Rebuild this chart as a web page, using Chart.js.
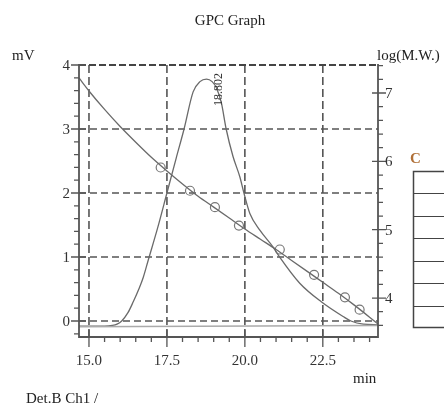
<!DOCTYPE html>
<html><head><meta charset="utf-8">
<script src="https://cdn.jsdelivr.net/npm/chart.js@4/dist/chart.umd.min.js"></script>
<style>html,body{margin:0;padding:0;background:#fff;}#wrap{width:444px;height:407px;position:relative;}</style>
</head><body><div id="wrap"><canvas id="c" width="444" height="407"></canvas></div>
<script>
// Detector signal (mV) vs retention time (min)
const chromMin = [14.68,15.5,15.75,15.9,16.05,16.25,16.42,16.6,16.74,16.9,17.2,17.5,17.8,18.05,18.34,18.56,18.77,18.95,19.09,19.25,19.4,19.62,19.84,19.97,20.16,20.48,20.9,21.1,21.76,22.45,23.15,23.4,23.8,24.27];
const chromMv  = [-0.08,-0.08,-0.07,-0.05,0.0,0.13,0.3,0.5,0.68,0.95,1.45,2.0,2.55,3.0,3.58,3.74,3.78,3.74,3.64,3.40,3.0,2.57,2.25,2.0,1.68,1.42,1.16,1.01,0.59,0.3,0.07,0.0,-0.05,-0.06];
// Baseline
const baseMin = [14.68,24.27];
const baseMv  = [-0.09,-0.07];
// Calibration curve log(M.W.) vs min
const calMin = [14.68,15.0,15.5,16.0,16.5,17.0,17.5,18.0,18.5,19.0,19.5,20.0,20.5,21.0,21.5,22.0,22.5,23.0,23.5,24.0,24.27];
const calLog = [7.22,7.03,6.76,6.51,6.28,6.06,5.86,5.67,5.49,5.33,5.17,5.01,4.86,4.71,4.55,4.39,4.23,4.07,3.90,3.72,3.62];
// Calibration standards
const stdMin = [17.30,18.24,19.04,19.81,21.12,22.22,23.21,23.68];
const stdLog = [5.91,5.57,5.33,5.06,4.71,4.34,4.01,3.83];
// Peak label
const peakTime = 18.802;
const peakLabel = '18.802';
// Axis ticks
const xMajor = [15.0,17.5,20.0,22.5];
const xTickLabels = ['15.0','17.5','20.0','22.5'];
const xMinorStep = 0.5;
const yMajor = [0,1,2,3,4];
const yTickLabels = ['0','1','2','3','4'];
const yMinorStep = 0.2;
const y2Major = [4,5,6,7];
const y2TickLabels = ['4','5','6','7'];
const y2MinorStep = 0.2;

const pts = (xs, ys) => xs.map((v,i)=>({x:v,y:ys[i]}));
const SERIF = '"Liberation Serif", "DejaVu Serif", serif';
const AX = '#555';

const gpcPlugin = {
  id:'gpc',
  beforeDatasetsDraw(chart){
    const {ctx, chartArea:a, scales:{x,y}} = chart;
    ctx.save();
    ctx.strokeStyle = AX; ctx.lineWidth = 1.6;
    ctx.setLineDash([8,4]);
    xMajor.forEach(v=>{
      const px = x.getPixelForValue(v);
      ctx.beginPath(); ctx.moveTo(px,a.top); ctx.lineTo(px,a.bottom); ctx.stroke();
    });
    ctx.setLineDash([7,4]);
    yMajor.forEach(v=>{
      if (v === 4) return;
      const py = y.getPixelForValue(v);
      ctx.beginPath(); ctx.moveTo(a.left,py); ctx.lineTo(a.right,py); ctx.stroke();
    });
    ctx.restore();
  },
  afterDraw(chart){
    const {ctx, chartArea:a, scales:{x,y,y2}} = chart;
    ctx.save();
    // top dashed border
    ctx.strokeStyle = '#444'; ctx.lineWidth = 2.2; ctx.setLineDash([7,3]);
    ctx.beginPath(); ctx.moveTo(a.left,a.top); ctx.lineTo(a.right,a.top); ctx.stroke();
    ctx.setLineDash([]);
    // axis lines
    ctx.strokeStyle = AX; ctx.lineWidth = 1.8;
    ctx.beginPath();
    ctx.moveTo(a.left,a.top-1); ctx.lineTo(a.left,a.bottom);
    ctx.lineTo(a.right,a.bottom); ctx.lineTo(a.right,a.top-1);
    ctx.stroke();
    // ticks
    ctx.lineWidth = 1.3;
    ctx.beginPath();
    for (let v = -0.2; v <= 4.0001; v += yMinorStep) {
      const py = y.getPixelForValue(v);
      ctx.moveTo(a.left-5,py); ctx.lineTo(a.left,py);
    }
    yMajor.forEach(v=>{ const py=y.getPixelForValue(v); ctx.moveTo(a.left-8,py); ctx.lineTo(a.left+7,py); });
    for (let v = 3.6; v <= 7.40001; v += y2MinorStep) {
      const py = y2.getPixelForValue(v);
      ctx.moveTo(a.right,py); ctx.lineTo(a.right+5,py);
    }
    y2Major.forEach(v=>{ const py=y2.getPixelForValue(v); ctx.moveTo(a.right-6,py); ctx.lineTo(a.right+8,py); });
    for (let v = 15.0; v <= 24.2; v += xMinorStep) {
      const px = x.getPixelForValue(v);
      ctx.moveTo(px,a.bottom); ctx.lineTo(px,a.bottom+5);
    }
    xMajor.forEach(v=>{ const px=x.getPixelForValue(v); ctx.moveTo(px,a.bottom-7); ctx.lineTo(px,a.bottom+10); });
    ctx.stroke();
    // tick labels
    ctx.fillStyle = '#333';
    ctx.font = '15px ' + SERIF;
    ctx.textAlign = 'right'; ctx.textBaseline = 'middle';
    yMajor.forEach((v,i)=>ctx.fillText(yTickLabels[i], a.left-9, y.getPixelForValue(v)+1));
    ctx.textAlign = 'left';
    y2Major.forEach((v,i)=>ctx.fillText(y2TickLabels[i], a.right+7, y2.getPixelForValue(v)+1));
    ctx.textAlign = 'center'; ctx.textBaseline = 'alphabetic';
    xMajor.forEach((v,i)=>ctx.fillText(xTickLabels[i], x.getPixelForValue(v), a.bottom+28));
    // titles
    ctx.fillStyle = '#222';
    ctx.fillText('GPC Graph', 230, 25);
    ctx.textAlign = 'left';
    ctx.fillText('mV', 12, 60);
    ctx.fillText('log(M.W.)', 377, 60);
    ctx.fillText('min', 353, 383);
    ctx.fillText('Det.B Ch1 /', 26, 403);
    // peak label
    ctx.save();
    ctx.fillStyle = '#333';
    ctx.font = '12px ' + SERIF;
    ctx.translate(x.getPixelForValue(peakTime)+14, a.top+41);
    ctx.rotate(-Math.PI/2);
    ctx.textAlign = 'left'; ctx.textBaseline = 'alphabetic';
    ctx.fillText(peakLabel, 0, 0);
    ctx.restore();
    // cut-off side table fragment
    ctx.fillStyle = '#b07038';
    ctx.font = 'bold 15px ' + SERIF;
    ctx.fillText('C', 410, 163);
    ctx.strokeStyle = '#444'; ctx.lineWidth = 1.5;
    ctx.strokeRect(413.5, 171.5, 40, 156);
    ctx.lineWidth = 1;
    ctx.beginPath();
    [193.5,216.5,238.5,261.5,283.5,306.5].forEach(r=>{ctx.moveTo(413,r);ctx.lineTo(444,r);});
    ctx.stroke();
    ctx.restore();
  }
};

new Chart(document.getElementById('c'), {
  type:'scatter',
  data:{ datasets:[
    {data:pts(baseMin,baseMv), xAxisID:'x', yAxisID:'y', showLine:true, borderColor:'#aaa', borderWidth:1.6, pointRadius:0},
    {data:pts(chromMin,chromMv), xAxisID:'x', yAxisID:'y', showLine:true, borderColor:'#6a6a6a', borderWidth:1.3, pointRadius:0, cubicInterpolationMode:'monotone'},
    {data:pts(calMin,calLog), xAxisID:'x', yAxisID:'y2', showLine:true, borderColor:'#6a6a6a', borderWidth:1.3, pointRadius:0, cubicInterpolationMode:'monotone'},
    {data:pts(stdMin,stdLog), xAxisID:'x', yAxisID:'y2', showLine:false, pointRadius:4.5, pointStyle:'circle', borderColor:'#777', borderWidth:1.2, backgroundColor:'rgba(255,255,255,0)'}
  ]},
  options:{
    responsive:false, animation:false, events:[],
    layout:{padding:{left:79,right:66,top:65,bottom:70}},
    plugins:{legend:{display:false}, tooltip:{enabled:false}, title:{display:false}},
    scales:{
      x:{type:'linear', min:14.68, max:24.27, display:false},
      y:{type:'linear', min:-0.25, max:4.0, display:false},
      y2:{type:'linear', min:3.43, max:7.41, display:false, position:'right'}
    }
  },
  plugins:[gpcPlugin]
});
</script></body></html>
